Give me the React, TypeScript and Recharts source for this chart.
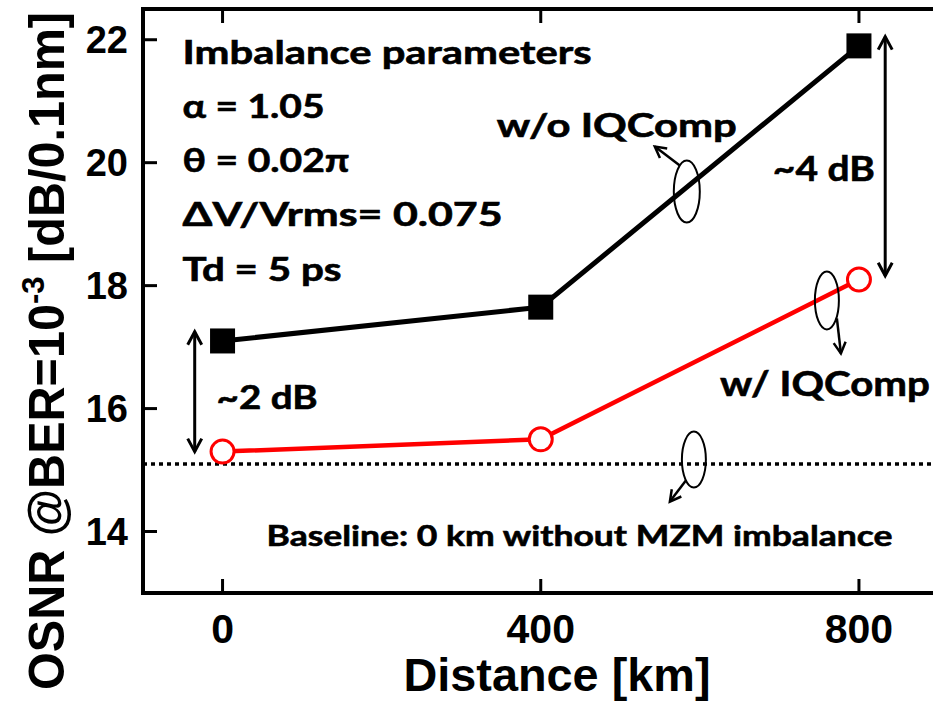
import React from "react";
import { LineChart, Line, XAxis, YAxis, ReferenceLine, ReferenceDot, ReferenceArea } from "recharts";

// values
const distances = [0, 400, 800];
const withoutComp = [17.1, 17.65, 21.9];
const withComp = [15.3, 15.5, 18.1];
const baselineOsnr = 15.1;

const xDomain = [-100, 900];
const yDomain = [13, 22.5];
const xTicks = [0, 400, 800];
const yTicks = [14, 16, 18, 20, 22];

const paramLines = ["Imbalance parameters", "α = 1.05", "θ = 0.02π", "ΔV/Vrms= 0.075", "Td = 5 ps"];
const paramWidths = [409, 142, 167, 320, 159];

const data = distances.map((d, i) => ({
  distance: d,
  without: withoutComp[i],
  with: withComp[i],
}));

const annoFont = "Lato, 'Open Sans', sans-serif";
const axisFont = "'Liberation Sans', Arial, sans-serif";
const RED = "#ff0000";

const headPath = (x1: number, y1: number, x2: number, y2: number, len = 13, half = 7) => {
  const dx = x2 - x1;
  const dy = y2 - y1;
  const L = Math.hypot(dx, dy) || 1;
  const ux = dx / L;
  const uy = dy / L;
  const bx = x2 - ux * len;
  const by = y2 - uy * len;
  return `M${bx - uy * half},${by + ux * half} L${x2},${y2} L${bx + uy * half},${by - ux * half}`;
};

const DoubleArrow = (p: any) => (
  <g stroke="#000" strokeWidth={3} fill="none">
    <line x1={p.x1} y1={p.y1} x2={p.x2} y2={p.y2} />
    <path d={headPath(p.x2, p.y2, p.x1, p.y1)} />
    <path d={headPath(p.x1, p.y1, p.x2, p.y2)} />
  </g>
);

// ellipse callout with a small arrow, arrow offsets in px from the centre
const callout = (rx: number, ry: number, ax1: number, ay1: number, ax2: number, ay2: number) => (p: any) => (
  <g stroke="#000" fill="none">
    <ellipse cx={p.cx} cy={p.cy} rx={rx} ry={ry} strokeWidth={2} />
    <line x1={p.cx + ax1} y1={p.cy + ay1} x2={p.cx + ax2} y2={p.cy + ay2} strokeWidth={2.5} />
    <path d={headPath(p.cx + ax1, p.cy + ay1, p.cx + ax2, p.cy + ay2, 11, 6)} strokeWidth={2.5} />
  </g>
);

const label = (text: string, size: number, width: number) => (p: any) => (
  <text
    x={p.cx}
    y={p.cy}
    fontFamily={annoFont}
    fontWeight={700}
    fontSize={size}
    fill="#000"
    stroke="#000"
    strokeWidth={0.6}
    textLength={width}
    lengthAdjust="spacingAndGlyphs"
  >
    {text}
  </text>
);

const ParamBlock = (p: any) => (
  <g>
    {paramLines.map((t, i) => (
      <text
        key={t}
        x={p.cx}
        y={p.cy + i * 54.25}
        fontFamily={annoFont}
        fontWeight={700}
        fontSize={32}
        fill="#000"
        stroke="#000"
        strokeWidth={0.6}
        textLength={paramWidths[i]}
        lengthAdjust="spacingAndGlyphs"
      >
        {t}
      </text>
    ))}
  </g>
);

const LeftTick = ({ x, y, payload }: any) => (
  <g>
    <line x1={x} x2={x + 14} y1={y} y2={y} stroke="#000" strokeWidth={3} />
    <text x={x - 15} y={y} dy="0.36em" textAnchor="end" fontFamily={axisFont} fontWeight={700} fontSize={38} fill="#000">
      {payload.value}
    </text>
  </g>
);

const RightTick = ({ x, y }: any) => <line x1={x - 14} x2={x} y1={y} y2={y} stroke="#000" strokeWidth={3} />;

const BottomTick = ({ x, y, payload }: any) => (
  <g>
    <line x1={x} x2={x} y1={y} y2={y - 14} stroke="#000" strokeWidth={3} />
    <text x={x} y={y + 50} textAnchor="middle" fontFamily={axisFont} fontWeight={700} fontSize={41} fill="#000">
      {payload.value}
    </text>
  </g>
);

const TopTick = ({ x, y }: any) => <line x1={x} x2={x} y1={y} y2={y + 14} stroke="#000" strokeWidth={3} />;

const XTitle = (props: any) => {
  const vb = props.viewBox || { x: 143, y: 593 };
  return (
    <text
      x={vb.x + 414}
      y={vb.y + 98}
      textAnchor="middle"
      fontFamily={axisFont}
      fontWeight={700}
      fontSize={46}
      fill="#000"
      textLength={307}
      lengthAdjust="spacingAndGlyphs"
    >
      Distance [km]
    </text>
  );
};

const YTitle = (props: any) => {
  const vb = props.viewBox || { x: 142, y: 9 };
  const x = vb.x - 78;
  const y = vb.y + 342;
  return (
    <text
      x={x}
      y={y}
      transform={`rotate(-90, ${x}, ${y})`}
      textAnchor="middle"
      fontFamily={axisFont}
      fontWeight={700}
      fontSize={50}
      fill="#000"
      textLength={678}
      lengthAdjust="spacingAndGlyphs"
    >
      OSNR @BER=10
      <tspan fontSize={32} dy={-20}>-3</tspan>
      <tspan dy={20}> [dB/0.1nm]</tspan>
    </text>
  );
};

const SquareDot = (p: any) => (
  <rect key={`sq-${p.index}`} x={p.cx - 12.5} y={p.cy - 12.5} width={25} height={25} fill="#000" />
);

const CircleDot = (p: any) => (
  <circle key={`ci-${p.index}`} cx={p.cx} cy={p.cy} r={11.5} fill="#fff" stroke={RED} strokeWidth={3} />
);

export default function App() {
  return (
    <div
      style={{
        position: "absolute",
        left: 0,
        top: 0,
        width: 933,
        height: 702,
        overflow: "hidden",
        background: "#fff",
      }}
    >
      <LineChart width={945} height={702} data={data} margin={{ top: 8, right: 5.5, bottom: 108, left: 142 }}>
        <XAxis
          dataKey="distance"
          type="number"
          domain={xDomain}
          ticks={xTicks}
          height={1}
          tickSize={0}
          tickMargin={0}
          tickLine={false}
          axisLine={false}
          tick={<BottomTick />}
          label={<XTitle />}
        />
        <XAxis
          xAxisId="top"
          orientation="top"
          dataKey="distance"
          type="number"
          domain={xDomain}
          ticks={xTicks}
          height={1}
          tickSize={0}
          tickMargin={0}
          tickLine={false}
          axisLine={false}
          tick={<TopTick />}
        />
        <YAxis
          type="number"
          domain={yDomain}
          ticks={yTicks}
          width={1}
          tickSize={0}
          tickMargin={0}
          tickLine={false}
          axisLine={false}
          tick={<LeftTick />}
          label={<YTitle />}
        />
        <YAxis
          yAxisId="right"
          orientation="right"
          type="number"
          domain={yDomain}
          ticks={yTicks}
          width={1}
          tickSize={0}
          tickMargin={0}
          tickLine={false}
          axisLine={false}
          tick={<RightTick />}
        />

        {/* plot frame */}
        <ReferenceArea
          x1={xDomain[0]}
          x2={xDomain[1]}
          y1={yDomain[0]}
          y2={yDomain[1]}
          fill="none"
          fillOpacity={0}
          stroke="#000"
          strokeWidth={4}
          strokeOpacity={1}
          ifOverflow="visible"
        />

        <ReferenceLine y={baselineOsnr} stroke="#000" strokeWidth={3.5} strokeDasharray="4 4" />

        <Line
          dataKey="without"
          stroke="#000"
          strokeWidth={5}
          dot={SquareDot}
          activeDot={false}
          isAnimationActive={false}
        />
        <Line
          dataKey="with"
          stroke={RED}
          strokeWidth={4.5}
          dot={CircleDot}
          activeDot={false}
          isAnimationActive={false}
        />

        <ReferenceLine segment={[{ x: -35, y: 17.25 }, { x: -35, y: 15.3 }]} shape={DoubleArrow} />
        <ReferenceLine segment={[{ x: 833, y: 22.05 }, { x: 833, y: 18.16 }]} shape={DoubleArrow} />

        <ReferenceDot x={583.6} y={19.53} r={0} shape={callout(13, 31, -7, -26, -32, -45)} />
        <ReferenceDot x={759.7} y={17.76} r={0} shape={callout(12, 29, 10, 18, 14, 53)} />
        <ReferenceDot x={592.5} y={15.17} r={0} shape={callout(12, 28, -8, 21, -24, 42)} />

        <ReferenceDot x={-50.3} y={21.61} r={0} shape={ParamBlock} />
        <ReferenceDot x={344.7} y={20.42} r={0} shape={label("w/o IQComp", 32, 240)} />
        <ReferenceDot x={691.8} y={19.71} r={0} shape={label("~4 dB", 35, 102)} />
        <ReferenceDot x={625.2} y={16.2} r={0} shape={label("w/ IQComp", 34, 210)} />
        <ReferenceDot x={-7.5} y={16.0} r={0} shape={label("~2 dB", 33, 101)} />
        <ReferenceDot x={55.3} y={13.76} r={0} shape={label("Baseline: 0 km without MZM imbalance", 29, 626)} />
      </LineChart>
    </div>
  );
}
